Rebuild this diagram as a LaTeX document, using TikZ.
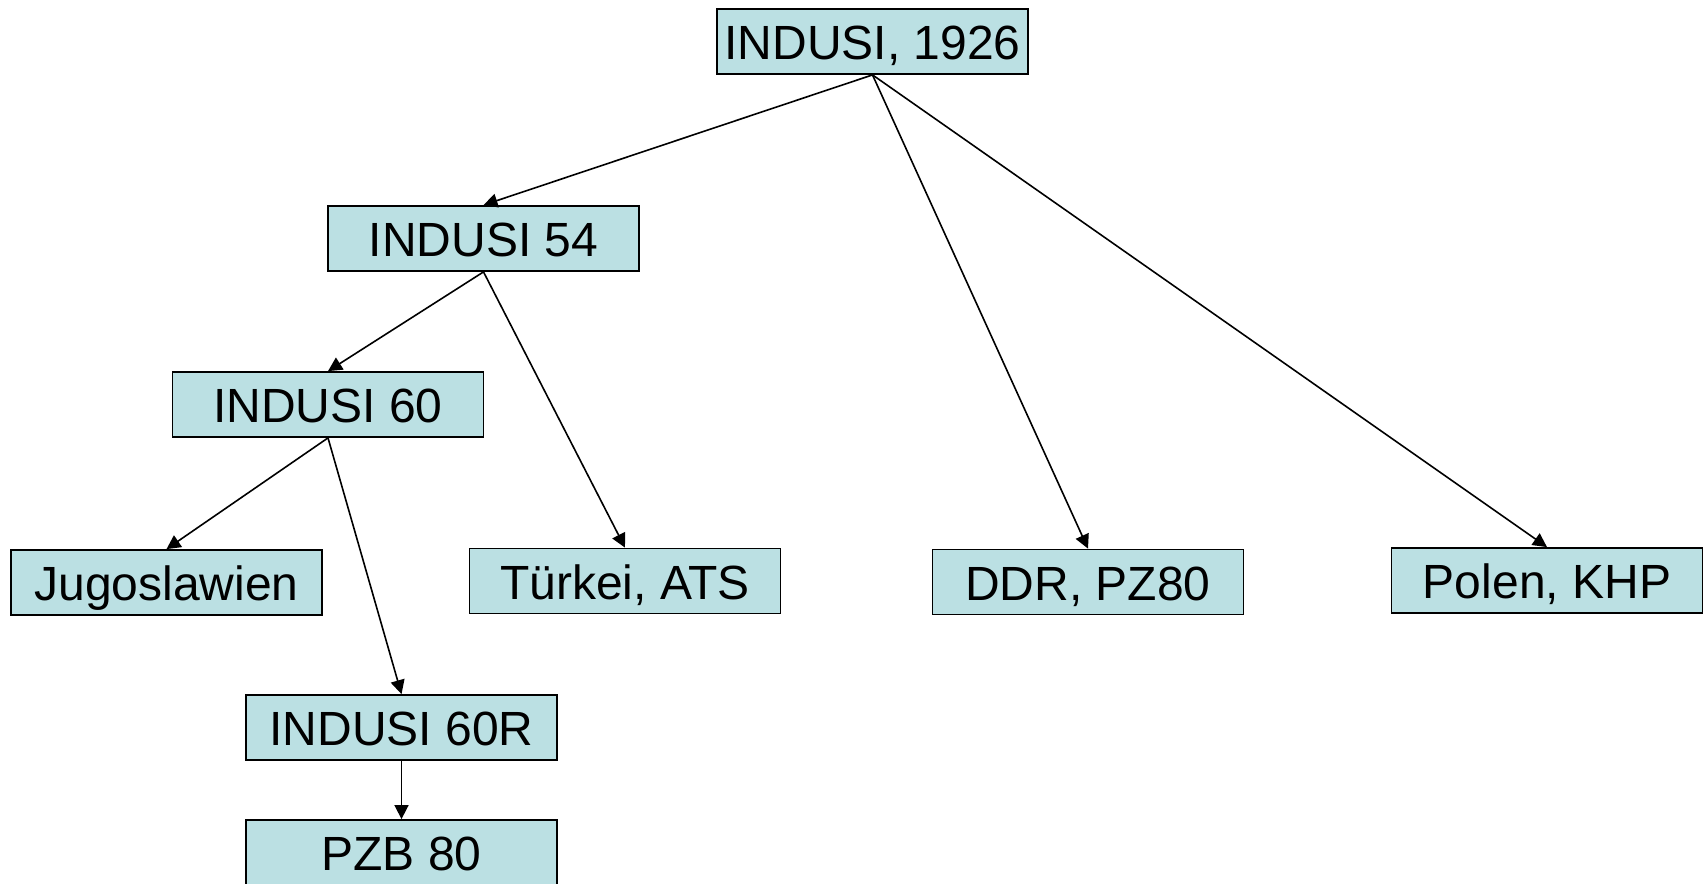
\documentclass[tikz,border=0pt]{standalone}
\usepackage{fontspec}
\setmainfont{Liberation Sans}
\usetikzlibrary{arrows.meta}
\definecolor{boxfill}{RGB}{187,224,227}
\begin{document}
\begin{tikzpicture}[x=1pt,y=-1pt,
  box/.style={draw=black,line width=1.8pt,fill=boxfill,minimum width=311pt,minimum height=65pt,
    inner sep=0pt,text height=36.5pt,text depth=0pt,font=\fontsize{48}{50}\selectfont},
  conn/.style={line width=1.6pt,-{Triangle[length=14pt,width=14pt]}}]
\useasboundingbox (0,0) rectangle (1704,883);
\clip (0,0) rectangle (1704,883);
\fill[white] (0,0) rectangle (1704,883);
\node[box] (top) at (872.5,41.5) {INDUSI, 1926};
\node[box] (i54) at (483.5,238.5) {INDUSI 54};
\node[box] (i60) at (328,404.5) {INDUSI 60};
\node[box] (jug) at (166.5,582.5) {Jugoslawien};
\node[box] (tur) at (625,581) {Türkei, ATS};
\node[box] (ddr) at (1088,582) {DDR, PZ80};
\node[box] (pol) at (1547,580.5) {Polen, KHP};
\node[box] (i60r) at (401.5,727.5) {INDUSI 60R};
\node[box] (pzb) at (401.5,852.5) {PZB 80};
\draw[conn] (top.south) -- (i54.north);
\draw[conn] (top.south) -- (ddr.north);
\draw[conn] (top.south) -- (pol.north);
\draw[conn] (i54.south) -- (i60.north);
\draw[conn] (i54.south) -- (tur.north);
\draw[conn] (i60.south) -- (jug.north);
\draw[conn] (i60.south) -- (i60r.north);
\draw[conn] (i60r.south) -- (pzb.north);
\end{tikzpicture}
\end{document}
